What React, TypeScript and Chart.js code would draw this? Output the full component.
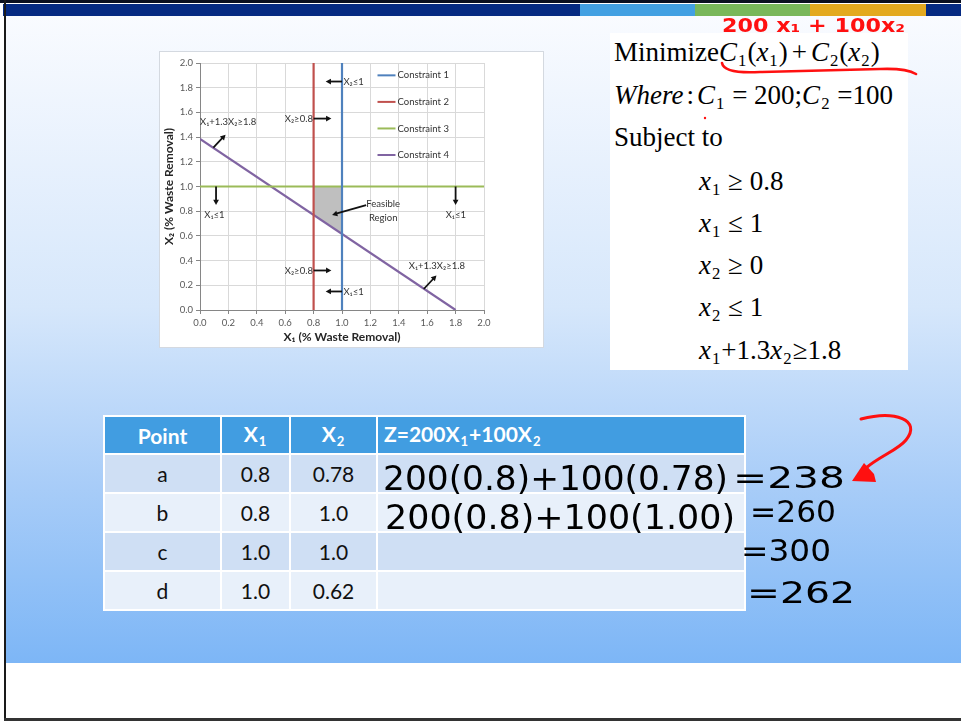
import React, { useEffect, useRef } from "react";
import { Chart, registerables } from "chart.js";

Chart.register(...registerables);

// Constraint lines of the linear program (x1 on the horizontal axis, x2 on the vertical)
const constraintNames = ["Constraint 1", "Constraint 2", "Constraint 3", "Constraint 4"];
const constraintColors = ["#4f81bd", "#c0504d", "#9bbb59", "#8064a2"];
const c1X = [1.0, 1.0];
const c1Y = [0.0, 2.0];
const c2X = [0.8, 0.8];
const c2Y = [0.0, 2.0];
const c3X = [0.0, 2.0];
const c3Y = [1.0, 1.0];
const c4X = [0.0, 1.8];
const c4Y = [1.385, 0.0];

// Corners of the feasible region
const feasibleX = [0.8, 0.8, 1.0, 1.0, 0.8];
const feasibleY = [0.769, 1.0, 1.0, 0.615, 0.769];

// Axis ticks
const axisTicks = [0, 0.2, 0.4, 0.6, 0.8, 1.0, 1.2, 1.4, 1.6, 1.8, 2.0];

// Corner-point table
const pointNames = ["a", "b", "c", "d"];
const pointX1 = ["0.8", "0.8", "1.0", "1.0"];
const pointX2 = ["0.78", "1.0", "1.0", "0.62"];

// Hand-written working next to the table
const workLines = ["200(0.8)+100(0.78)", "200(0.8)+100(1.00)"];
const workResults = ["=238", "=260", "=300", "=262"];

const toPts = (xs: number[], ys: number[]) => xs.map((x, i) => ({ x, y: ys[i] }));

// Labels and arrows placed in data units on the chart
const chartNotes = [
  { text: "X₂≤1", x: 1.01, y: 1.85, align: "left" },
  { text: "X₂≥0.8", x: 0.795, y: 1.55, align: "right" },
  { text: "X₁+1.3X₂≥1.8", x: 0.0, y: 1.52, align: "left" },
  { text: "X₁≤1", x: 0.03, y: 0.77, align: "left" },
  { text: "X₁≤1", x: 1.73, y: 0.77, align: "left" },
  { text: "Feasible", x: 1.29, y: 0.855, align: "center" },
  { text: "Region", x: 1.29, y: 0.745, align: "center" },
  { text: "X₂≥0.8", x: 0.795, y: 0.32, align: "right" },
  { text: "X₁≤1", x: 1.01, y: 0.15, align: "left" },
  { text: "X₁+1.3X₂≥1.8", x: 1.47, y: 0.36, align: "left" },
];
const chartArrows = [
  { from: [1.0, 1.85], to: [0.885, 1.85] },
  { from: [0.8, 1.55], to: [0.925, 1.55] },
  { from: [0.094, 1.315], to: [0.18, 1.42] },
  { from: [0.113, 1.0], to: [0.113, 0.85] },
  { from: [1.8, 1.0], to: [1.8, 0.85] },
  { from: [1.17, 0.85], to: [0.93, 0.77] },
  { from: [0.8, 0.32], to: [0.925, 0.32] },
  { from: [1.0, 0.15], to: [0.885, 0.15] },
  { from: [1.576, 0.17], to: [1.665, 0.28] },
];

const chartFont = "Lato, 'DejaVu Sans', sans-serif";

const notesPlugin = {
  id: "lpNotes",
  afterDatasetsDraw(chart: any) {
    const { ctx, scales } = chart;
    const xs = scales.x;
    const ys = scales.y;
    ctx.save();
    // arrows
    ctx.strokeStyle = "#111";
    ctx.fillStyle = "#111";
    ctx.lineWidth = 1.8;
    chartArrows.forEach((a) => {
      const x1 = xs.getPixelForValue(a.from[0]);
      const y1 = ys.getPixelForValue(a.from[1]);
      const x2 = xs.getPixelForValue(a.to[0]);
      const y2 = ys.getPixelForValue(a.to[1]);
      const ang = Math.atan2(y2 - y1, x2 - x1);
      const head = 6;
      ctx.beginPath();
      ctx.moveTo(x1, y1);
      ctx.lineTo(x2 - Math.cos(ang) * head * 0.7, y2 - Math.sin(ang) * head * 0.7);
      ctx.stroke();
      ctx.beginPath();
      ctx.moveTo(x2, y2);
      ctx.lineTo(x2 - head * Math.cos(ang - 0.5), y2 - head * Math.sin(ang - 0.5));
      ctx.lineTo(x2 - head * Math.cos(ang + 0.5), y2 - head * Math.sin(ang + 0.5));
      ctx.closePath();
      ctx.fill();
    });
    // text notes
    ctx.fillStyle = "#333";
    ctx.font = `9.5px ${chartFont}`;
    ctx.textBaseline = "middle";
    chartNotes.forEach((n) => {
      ctx.textAlign = n.align as CanvasTextAlign;
      ctx.fillText(n.text, xs.getPixelForValue(n.x), ys.getPixelForValue(n.y));
    });
    // legend, drawn inside the plot at the upper right
    const lx = xs.getPixelForValue(1.25);
    chart.data.datasets.slice(0, 4).forEach((ds: any, i: number) => {
      const y = ys.getPixelForValue(1.9 - i * 0.215);
      ctx.strokeStyle = ds.borderColor;
      ctx.lineWidth = 2;
      ctx.beginPath();
      ctx.moveTo(lx, y);
      ctx.lineTo(lx + 18, y);
      ctx.stroke();
      ctx.fillStyle = "#333";
      ctx.textAlign = "left";
      ctx.fillText(ds.label, lx + 20, y);
    });
    ctx.restore();
  },
};

function LpChart() {
  const ref = useRef<HTMLCanvasElement>(null);
  useEffect(() => {
    if (!ref.current) return;
    const lineSets = [
      [c1X, c1Y],
      [c2X, c2Y],
      [c3X, c3Y],
      [c4X, c4Y],
    ].map(([xs, ys], i) => ({
      label: constraintNames[i],
      data: toPts(xs, ys),
      showLine: true,
      borderColor: constraintColors[i],
      backgroundColor: constraintColors[i],
      borderWidth: 2.2,
      pointRadius: 0,
      fill: false,
      order: 1,
    }));
    const chart = new Chart(ref.current, {
      type: "scatter",
      data: {
        datasets: [
          ...lineSets,
          {
            label: "Feasible Region",
            data: toPts(feasibleX, feasibleY),
            showLine: true,
            borderWidth: 0,
            borderColor: "rgba(0,0,0,0)",
            backgroundColor: "#bfbfbf",
            pointRadius: 0,
            fill: "shape",
            order: 2,
          } as any,
        ],
      },
      options: {
        animation: false,
        responsive: false,
        events: [],
        layout: { padding: { left: 0, top: 11, right: 59, bottom: 0 } },
        plugins: { legend: { display: false }, tooltip: { enabled: false } },
        scales: {
          x: {
            type: "linear",
            min: 0,
            max: 2,
            afterBuildTicks: (s: any) => {
              s.ticks = axisTicks.map((v) => ({ value: v }));
            },
            afterFit: (s: any) => {
              s.height = 37;
            },
            ticks: {
              font: { family: chartFont, size: 9.5 },
              color: "#595959",
              padding: 3,
              callback: (v: any) => Number(v).toFixed(1),
            },
            grid: { color: "#d9d9d9", tickLength: 4, tickColor: "#868686" },
            border: { color: "#868686" },
            title: {
              display: true,
              text: "X₁ (% Waste Removal)",
              font: { family: chartFont, size: 12, weight: "bold" },
              color: "#262626",
              padding: { top: 0, bottom: 3 },
            },
          },
          y: {
            type: "linear",
            min: 0,
            max: 2,
            afterBuildTicks: (s: any) => {
              s.ticks = axisTicks.map((v) => ({ value: v }));
            },
            afterFit: (s: any) => {
              s.width = 40;
            },
            ticks: {
              font: { family: chartFont, size: 9.5 },
              color: "#595959",
              padding: 3,
              callback: (v: any) => Number(v).toFixed(1),
            },
            grid: { color: "#d9d9d9", tickLength: 4, tickColor: "#868686" },
            border: { color: "#868686" },
            title: {
              display: true,
              text: "X₂ (% Waste Removal)",
              font: { family: chartFont, size: 12, weight: "bold" },
              color: "#262626",
              padding: { top: 2, bottom: 0 },
            },
          },
        },
      },
      plugins: [notesPlugin],
    });
    return () => chart.destroy();
  }, []);
  return (
    <div
      style={{
        position: "absolute",
        left: 160,
        top: 52,
        width: 383,
        height: 295,
        background: "#fff",
        boxShadow: "0 0 0 1px #d4d9e0",
      }}
    >
      <canvas ref={ref} width={383} height={295} style={{ display: "block", filter: "blur(0.35px)" }} />
    </div>
  );
}

const serif = "'Liberation Serif', 'Times New Roman', serif";
const I = ({ children }: any) => <i>{children}</i>;
const Sub = ({ children }: any) => (
  <sub style={{ fontSize: "0.62em", verticalAlign: "-0.3em", margin: "0 1px" }}>{children}</sub>
);

function Formulation() {
  const row = (top: number, left: number, content: any) => (
    <div style={{ position: "absolute", top, left, whiteSpace: "nowrap", lineHeight: "30px" }}>{content}</div>
  );
  return (
    <div
      style={{
        position: "absolute",
        left: 610,
        top: 33,
        width: 298,
        height: 337,
        background: "#fff",
        fontFamily: serif,
        fontSize: 27,
        color: "#000",
      }}
    >
      {row(4, 4, <>Minimize<I>C</I><Sub>1</Sub>(<I>x</I><Sub>1</Sub>)<span style={{ margin: "0 4px" }}>+</span><I>C</I><Sub>2</Sub>(<I>x</I><Sub>2</Sub>)</>)}
      {row(47, 4, <><I>Where</I><span style={{ margin: "0 3px" }}>:</span><I>C</I><Sub>1</Sub> = 200;<I>C</I><Sub>2</Sub> =100</>)}
      {row(89, 4, <>Subject to</>)}
      {row(133, 89, <><I>x</I><Sub>1</Sub> ≥ 0.8</>)}
      {row(175, 89, <><I>x</I><Sub>1</Sub> ≤ 1</>)}
      {row(217, 89, <><I>x</I><Sub>2</Sub> ≥ 0</>)}
      {row(259, 89, <><I>x</I><Sub>2</Sub> ≤ 1</>)}
      {row(302, 89, <><I>x</I><Sub>1</Sub>+1.3<I>x</I><Sub>2</Sub>≥1.8</>)}
    </div>
  );
}

const tableFont = "Lato, 'Open Sans', sans-serif";

function PointTable() {
  const rowBg = ["#cfdff4", "#e8f0fa", "#cfdff4", "#e8f0fa"];
  const th: React.CSSProperties = {
    background: "#419de1",
    color: "#fff",
    fontWeight: 700,
    fontSize: 21,
    height: 36,
    padding: 0,
    textAlign: "center",
  };
  const td: React.CSSProperties = { fontSize: 21, color: "#111", textAlign: "center", padding: 0, height: 37 };
  return (
    <table
      style={{
        position: "absolute",
        left: 103,
        top: 415,
        width: 643,
        borderCollapse: "separate",
        borderSpacing: 2,
        background: "#fff",
        fontFamily: tableFont,
        tableLayout: "fixed",
      }}
    >
      <colgroup>
        <col style={{ width: 115 }} />
        <col style={{ width: 67 }} />
        <col style={{ width: 85 }} />
        <col />
      </colgroup>
      <thead>
        <tr>
          <th style={th}>Point</th>
          <th style={th}>X<Sub>1</Sub></th>
          <th style={th}>X<Sub>2</Sub></th>
          <th style={{ ...th, textAlign: "left", paddingLeft: 6 }}>
            Z=200X<Sub>1</Sub>+100X<Sub>2</Sub>
          </th>
        </tr>
      </thead>
      <tbody>
        {pointNames.map((p, i) => (
          <tr key={p}>
            <td style={{ ...td, background: rowBg[i] }}>{p}</td>
            <td style={{ ...td, background: rowBg[i] }}>{pointX1[i]}</td>
            <td style={{ ...td, background: rowBg[i] }}>{pointX2[i]}</td>
            <td style={{ ...td, background: rowBg[i] }} />
          </tr>
        ))}
      </tbody>
    </table>
  );
}

const handFont = "'DejaVu Sans', sans-serif";

function Ink() {
  return (
    <svg
      width={961}
      height={721}
      style={{ position: "absolute", left: 0, top: 0, pointerEvents: "none" }}
    >
      {/* red note above the objective */}
      <text x={722} y={32} fill="#ff1010" fontFamily={handFont} fontWeight={700} fontSize={19} textLength={183} lengthAdjust="spacingAndGlyphs">
        200 x₁ + 100x₂
      </text>
      <path d="M722,63 Q724,74 760,72 L880,69 Q906,68 916,74" stroke="#ff1010" strokeWidth={2.6} fill="none" strokeLinecap="round" />
      <circle cx={705} cy={118} r={1.2} fill="#ff1010" />
      {/* black working */}
      <text x={383} y={490} fill="#000" fontFamily={handFont} fontSize={33} textLength={345} lengthAdjust="spacingAndGlyphs">
        {workLines[0]}
      </text>
      <text x={385} y={529} fill="#000" fontFamily={handFont} fontSize={33} textLength={350} lengthAdjust="spacingAndGlyphs">
        {workLines[1]}
      </text>
      <text x={733} y={488} fill="#000" fontFamily={handFont} fontSize={31} textLength={112} lengthAdjust="spacingAndGlyphs">
        {workResults[0]}
      </text>
      <text x={750} y={522} fill="#000" fontFamily={handFont} fontSize={31} textLength={86} lengthAdjust="spacingAndGlyphs">
        {workResults[1]}
      </text>
      <text x={741} y={561} fill="#000" fontFamily={handFont} fontSize={31} textLength={90} lengthAdjust="spacingAndGlyphs">
        {workResults[2]}
      </text>
      <text x={747} y={603} fill="#000" fontFamily={handFont} fontSize={31} textLength={108} lengthAdjust="spacingAndGlyphs">
        {workResults[3]}
      </text>
      {/* red arrow pointing at the minimum */}
      <path d="M861,419 C895,410 922,420 906,440 C898,450 880,456 866,468" stroke="#ff1010" strokeWidth={3} fill="none" strokeLinecap="round" />
      <path d="M852,481 L864,463 L874,474 L876,482 Z" fill="#ff1010" />
    </svg>
  );
}

export default function App() {
  return (
    <div style={{ position: "absolute", left: 0, top: 0, width: 961, height: 721, background: "#fff", overflow: "hidden" }}>
      {/* slide frame */}
      <div style={{ position: "absolute", left: 0, top: 0, width: 961, height: 3, background: "#0b1020" }} />
      <div style={{ position: "absolute", left: 3, top: 4, width: 958, height: 12, background: "#052a82" }} />
      <div style={{ position: "absolute", left: 580, top: 4, width: 115, height: 12, background: "#42a0e2" }} />
      <div style={{ position: "absolute", left: 695, top: 4, width: 115, height: 12, background: "#79b75a" }} />
      <div style={{ position: "absolute", left: 810, top: 4, width: 116, height: 12, background: "#e3a91f" }} />
      <div
        style={{
          position: "absolute",
          left: 6,
          top: 16,
          width: 955,
          height: 647,
          background: "linear-gradient(to bottom, #f9fbff 0%, #d6e7fb 45%, #a9cdf8 72%, #7db6f6 100%)",
        }}
      />
      <div style={{ position: "absolute", left: 4, top: 0, width: 2, height: 721, background: "#1a1a1a" }} />
      <div style={{ position: "absolute", left: 4, top: 718, width: 957, height: 3, background: "#333" }} />
      <LpChart />
      <Formulation />
      <PointTable />
      <Ink />
    </div>
  );
}
